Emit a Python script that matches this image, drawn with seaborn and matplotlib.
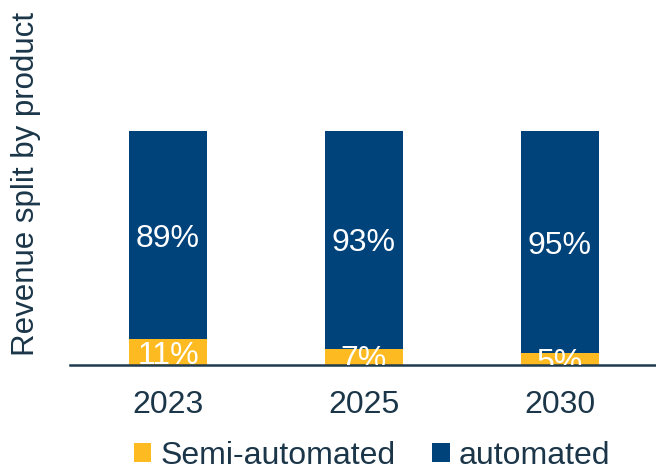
import matplotlib
matplotlib.use("Agg")
import matplotlib.pyplot as plt
import seaborn as sns
import pandas as pd
from matplotlib.patches import Patch

years = ["2023", "2025", "2030"]
semi = [11, 7, 5]
auto = [89, 93, 95]
series_names = ["Semi-automated", "automated"]

YELLOW = "#FDBB21"
NAVY = "#00427A"
TEXT = "#1B3649"

sns.set_theme(style="white")
plt.rcParams["font.family"] = ["Liberation Sans", "DejaVu Sans"]

df = pd.DataFrame({"year": years, "semi": semi, "auto": auto})
df["total"] = df["semi"] + df["auto"]

fig = plt.figure(figsize=(6.56, 4.72), dpi=100)
W, H = 656, 472
ax = fig.add_axes([70 / W, 1 - 365 / H, 586 / W, 234 / H])

sns.barplot(data=df, x="year", y="total", color=NAVY, width=0.4, ax=ax,
            saturation=1, linewidth=0)
sns.barplot(data=df, x="year", y="semi", color=YELLOW, width=0.4, ax=ax,
            saturation=1, linewidth=0)

FS = 23
ax.set_ylim(0, 100)
ax.set_xlim(-0.5, 2.49)
ax.set_yticks([])
ax.set_xlabel("")
ax.set_ylabel("")
for s in ["top", "right", "left"]:
    ax.spines[s].set_visible(False)
ax.spines["bottom"].set_color("#1F3B4D")
ax.spines["bottom"].set_linewidth(1.8)
ax.tick_params(axis="x", length=0, pad=18, labelsize=FS, labelcolor=TEXT)

for i, (s, a) in enumerate(zip(semi, auto)):
    ax.text(i, s / 2, f"{s}%", ha="center", va="center_baseline", color="white",
            fontsize=FS, clip_on=True)
    ax.text(i, s + a / 2, f"{a}%", ha="center", va="center_baseline", color="white",
            fontsize=FS, clip_on=True)

fig.text(26 / W, 1 - 184 / H, "Revenue split by product", rotation=90,
         ha="center", va="center", fontsize=22.5, color=TEXT)

handles = [Patch(facecolor=YELLOW, edgecolor="none"),
           Patch(facecolor=NAVY, edgecolor="none")]
leg = fig.legend(handles, series_names, loc="center", ncol=2,
                 bbox_to_anchor=(372 / W, 1 - 456 / H), frameon=False,
                 fontsize=FS, handlelength=0.55, handleheight=0.55,
                 handletextpad=0.28, columnspacing=1.15, borderpad=0)
for t in leg.get_texts():
    t.set_color(TEXT)

fig.savefig("out.png", dpi=100)
